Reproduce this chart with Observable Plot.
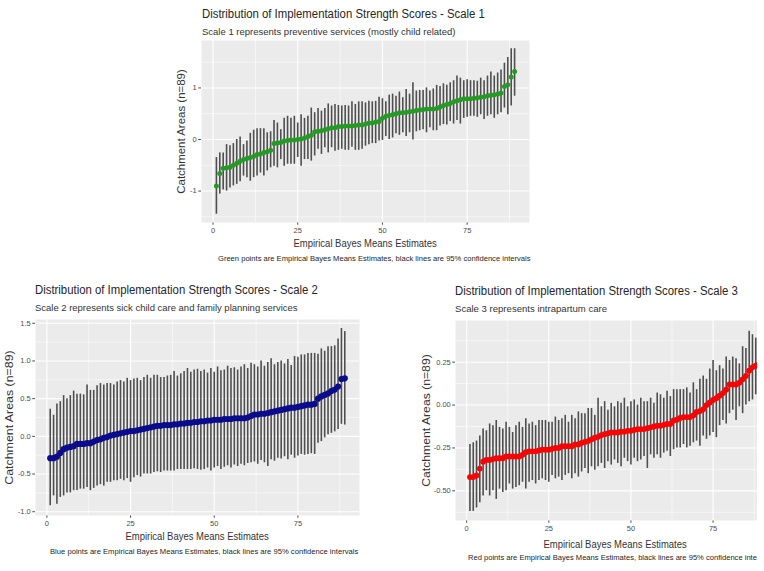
<!DOCTYPE html>
<html>
<head>
<meta charset="utf-8">
<script src="https://cdn.jsdelivr.net/npm/d3@7"></script>
<script src="https://cdn.jsdelivr.net/npm/@observablehq/plot@0.6"></script>
<style>
  html, body { margin: 0; padding: 0; background: #fff; }
  body { width: 764px; height: 571px; overflow: hidden; position: relative;
         font-family: "Liberation Sans", Arial, Helvetica, sans-serif; }
  .panel { position: absolute; overflow: hidden; }
  .txt { position: absolute; white-space: nowrap; line-height: 1; }
</style>
</head>
<body>
<script>
// Shared axis text and ticks
const xTitle = "Empirical Bayes Means Estimates";
const yTitle = "Catchment Areas (n=89)";
const xTicks = [0, 25, 50, 75];
const xMinor = [12.5, 37.5, 62.5, 87.5];

// Scale 1: preventive services (estimate, 95% CI low, 95% CI high), ranked
const est1 = [
  -0.90, -0.66, -0.56, -0.55, -0.54, -0.50, -0.46, -0.42, -0.39, -0.37,
  -0.35, -0.33, -0.29, -0.28, -0.25, -0.24, -0.21, -0.08, -0.07, -0.06,
  -0.03, -0.02, -0.01, -0.01, 0.00, 0.01, 0.03, 0.06, 0.08, 0.15,
  0.16, 0.17, 0.19, 0.21, 0.23, 0.23, 0.25, 0.25, 0.26, 0.26,
  0.26, 0.27, 0.28, 0.28, 0.30, 0.32, 0.32, 0.34, 0.35, 0.41,
  0.45, 0.47, 0.48, 0.50, 0.52, 0.52, 0.53, 0.54, 0.55, 0.56,
  0.57, 0.58, 0.59, 0.59, 0.59, 0.60, 0.63, 0.66, 0.68, 0.70,
  0.73, 0.75, 0.77, 0.79, 0.79, 0.79, 0.80, 0.81, 0.82, 0.83,
  0.85, 0.86, 0.87, 0.88, 0.90, 1.03, 1.06, 1.21, 1.32
];
const lo1 = [
  -1.45, -1.06, -0.98, -1.00, -0.94, -0.90, -0.87, -0.82, -0.71, -0.74,
  -0.81, -0.74, -0.71, -0.65, -0.71, -0.61, -0.55, -0.52, -0.55, -0.39,
  -0.52, -0.48, -0.48, -0.48, -0.35, -0.52, -0.39, -0.39, -0.42, -0.32,
  -0.19, -0.29, -0.16, -0.26, -0.16, -0.23, -0.21, -0.19, -0.21, -0.21,
  -0.15, -0.21, -0.21, -0.19, -0.13, -0.10, -0.08, -0.08, -0.03, -0.02,
  0.06, 0.00, 0.03, 0.11, 0.08, 0.13, 0.06, 0.13, -0.01, 0.15,
  0.17, 0.19, 0.13, 0.23, 0.17, 0.17, 0.26, 0.29, 0.28, 0.35,
  0.30, 0.37, 0.30, 0.41, 0.43, 0.45, 0.45, 0.43, 0.48, 0.39,
  0.45, 0.48, 0.41, 0.48, 0.52, 0.61, 0.48, 0.65, 0.84
];
const hi1 = [
  -0.35, -0.26, -0.26, -0.10, -0.12, -0.08, 0.00, 0.05, -0.10, -0.03,
  0.12, 0.18, 0.21, 0.21, 0.21, 0.13, 0.15, 0.37, 0.32, 0.19,
  0.41, 0.45, 0.41, 0.45, 0.32, 0.48, 0.41, 0.45, 0.61, 0.52,
  0.60, 0.55, 0.60, 0.69, 0.65, 0.68, 0.66, 0.65, 0.66, 0.65,
  0.73, 0.68, 0.73, 0.73, 0.71, 0.74, 0.73, 0.74, 0.82, 0.79,
  0.73, 0.86, 0.88, 0.84, 0.92, 0.81, 0.97, 0.88, 1.10, 0.94,
  0.95, 0.95, 1.00, 0.94, 0.98, 1.05, 1.03, 1.08, 1.05, 1.10,
  1.14, 1.23, 1.19, 1.14, 1.16, 1.14, 1.14, 1.13, 1.19, 1.14,
  1.23, 1.31, 1.23, 1.29, 1.35, 1.48, 1.59, 1.76, 1.76
];
const yTicks1 = [-1, 0, 1];
const yMinor1 = [-1.5, -0.5, 0.5, 1.5];

// Scale 2: sick child care and family planning services
const est2 = [
  -0.29, -0.29, -0.27, -0.22, -0.17, -0.15, -0.14, -0.13, -0.10, -0.10,
  -0.10, -0.09, -0.09, -0.07, -0.05, -0.04, -0.02, -0.01, 0.01, 0.02,
  0.03, 0.04, 0.05, 0.06, 0.07, 0.07, 0.08, 0.09, 0.10, 0.11,
  0.12, 0.13, 0.14, 0.14, 0.15, 0.15, 0.15, 0.16, 0.16, 0.17,
  0.17, 0.18, 0.18, 0.19, 0.19, 0.20, 0.20, 0.21, 0.21, 0.22,
  0.22, 0.22, 0.23, 0.23, 0.23, 0.24, 0.24, 0.24, 0.24, 0.25,
  0.27, 0.29, 0.29, 0.30, 0.30, 0.31, 0.32, 0.33, 0.34, 0.35,
  0.36, 0.37, 0.38, 0.38, 0.39, 0.40, 0.41, 0.42, 0.42, 0.43,
  0.50, 0.53, 0.55, 0.57, 0.60, 0.62, 0.66, 0.76, 0.77
];
const lo2 = [
  -0.92, -0.79, -0.90, -0.81, -0.79, -0.75, -0.75, -0.72, -0.72, -0.70,
  -0.70, -0.68, -0.72, -0.69, -0.66, -0.64, -0.66, -0.61, -0.61, -0.59,
  -0.59, -0.57, -0.59, -0.56, -0.61, -0.55, -0.52, -0.54, -0.50, -0.50,
  -0.50, -0.48, -0.47, -0.48, -0.46, -0.46, -0.46, -0.46, -0.44, -0.44,
  -0.44, -0.44, -0.44, -0.43, -0.44, -0.45, -0.44, -0.42, -0.46, -0.42,
  -0.40, -0.44, -0.41, -0.39, -0.42, -0.38, -0.40, -0.37, -0.39, -0.36,
  -0.35, -0.34, -0.37, -0.32, -0.35, -0.40, -0.31, -0.33, -0.29, -0.30,
  -0.27, -0.31, -0.25, -0.29, -0.26, -0.24, -0.25, -0.24, -0.23, -0.24,
  -0.09, -0.07, -0.02, 0.02, 0.04, 0.06, 0.09, 0.16, 0.15
];
const hi2 = [
  0.36, 0.28, 0.43, 0.46, 0.54, 0.50, 0.54, 0.60, 0.56, 0.56,
  0.55, 0.68, 0.61, 0.61, 0.67, 0.70, 0.68, 0.70, 0.70, 0.68,
  0.72, 0.74, 0.72, 0.77, 0.74, 0.76, 0.77, 0.74, 0.78, 0.81,
  0.77, 0.81, 0.81, 0.78, 0.78, 0.80, 0.81, 0.86, 0.80, 0.83,
  0.86, 0.90, 0.85, 0.88, 0.89, 0.86, 0.88, 0.84, 0.90, 0.85,
  0.92, 0.87, 0.88, 0.93, 0.90, 0.91, 0.88, 0.92, 0.95, 0.90,
  0.97, 0.95, 0.92, 1.00, 0.93, 0.98, 1.03, 0.95, 0.98, 1.00,
  0.96, 1.02, 0.94, 1.06, 1.05, 1.08, 1.08, 1.10, 1.10, 1.10,
  1.09, 1.16, 1.13, 1.19, 1.19, 1.20, 1.29, 1.43, 1.39
];
const yTicks2 = [-1.0, -0.5, 0.0, 0.5, 1.0, 1.5];
const yMinor2 = [-0.75, -0.25, 0.25, 0.75, 1.25];

// Scale 3: intrapartum care
const est3 = [
  -0.42, -0.42, -0.41, -0.37, -0.33, -0.32, -0.32, -0.315, -0.31, -0.31,
  -0.31, -0.30, -0.30, -0.30, -0.30, -0.30, -0.29, -0.275, -0.27, -0.27,
  -0.27, -0.265, -0.26, -0.26, -0.26, -0.255, -0.25, -0.25, -0.24, -0.24,
  -0.24, -0.24, -0.23, -0.23, -0.22, -0.215, -0.21, -0.20, -0.19, -0.185,
  -0.175, -0.17, -0.165, -0.16, -0.16, -0.16, -0.155, -0.155, -0.15, -0.15,
  -0.145, -0.14, -0.14, -0.14, -0.135, -0.13, -0.125, -0.12, -0.12, -0.115,
  -0.11, -0.11, -0.09, -0.085, -0.075, -0.07, -0.07, -0.07, -0.06, -0.04,
  -0.035, -0.025, 0.00, 0.015, 0.03, 0.04, 0.055, 0.07, 0.09, 0.12,
  0.12, 0.12, 0.13, 0.15, 0.17, 0.20, 0.22, 0.23, 0.24
];
const lo3 = [
  -0.62, -0.62, -0.60, -0.57, -0.53, -0.50, -0.53, -0.50, -0.55, -0.49,
  -0.51, -0.50, -0.46, -0.49, -0.48, -0.47, -0.45, -0.49, -0.45, -0.44,
  -0.46, -0.44, -0.43, -0.44, -0.45, -0.41, -0.43, -0.42, -0.44, -0.41,
  -0.40, -0.43, -0.40, -0.42, -0.39, -0.37, -0.40, -0.36, -0.38, -0.36,
  -0.34, -0.37, -0.33, -0.35, -0.32, -0.34, -0.36, -0.31, -0.33, -0.35,
  -0.31, -0.33, -0.32, -0.30, -0.37, -0.29, -0.31, -0.29, -0.31, -0.28,
  -0.27, -0.30, -0.26, -0.25, -0.25, -0.23, -0.25, -0.24, -0.22, -0.21,
  -0.24, -0.18, -0.20, -0.18, -0.16, -0.19, -0.12, -0.09, -0.11, -0.05,
  -0.03, -0.09, -0.01, -0.05, 0.00, 0.02, 0.03, 0.06, 0.05
];
const hi3 = [
  -0.23, -0.22, -0.21, -0.18, -0.14, -0.15, -0.11, -0.12, -0.09, -0.13,
  -0.14, -0.10, -0.13, -0.16, -0.12, -0.10, -0.13, -0.08, -0.11, -0.10,
  -0.12, -0.09, -0.09, -0.09, -0.10, -0.10, -0.07, -0.09, -0.08, -0.06,
  -0.10, -0.06, -0.08, -0.04, -0.05, -0.05, -0.02, -0.02, -0.06, 0.04,
  -0.01, 0.02, -0.03, 0.01, -0.01, 0.02, 0.01, 0.04, -0.01, 0.02,
  0.03, 0.00, 0.04, 0.02, 0.02, 0.04, 0.01, 0.07, 0.06, 0.04,
  0.08, 0.05, 0.09, 0.09, 0.09, 0.09, 0.10, 0.07, 0.13, 0.09,
  0.15, 0.17, 0.15, 0.21, 0.26, 0.20, 0.23, 0.21, 0.28, 0.26,
  0.28, 0.27, 0.24, 0.34, 0.33, 0.43, 0.41, 0.39, 0.38
];
const yTicks3 = [-0.50, -0.25, 0.00, 0.25];
const yMinor3 = [-0.625, -0.375, -0.125, 0.125, 0.375];

const titles = [
  "Distribution of Implementation Strength Scores - Scale 1",
  "Distribution of Implementation Strength Scores - Scale 2",
  "Distribution of Implementation Strength Scores - Scale 3"
];
const subtitles = [
  "Scale 1 represents preventive services (mostly child related)",
  "Scale 2 represents sick child care and family planning services",
  "Scale 3 represents intrapartum care"
];
const captions = [
  "Green points are Empirical Bayes Means Estimates, black lines are 95% confidence intervals",
  "Blue points are Empirical Bayes Means Estimates, black lines are 95% confidence intervals",
  "Red points are Empirical Bayes Means Estimates, black lines are 95% confidence intervals"
];

// Page layout for each panel (page pixel coordinates)
const layouts = [
  { clip: {x: 0, y: 0, w: 764, h: 268},
    box: {x: 201, y: 40, w: 328, h: 182},
    yDomain: [-1.61, 1.92], yTicks: yTicks1, yMinor: yMinor1, fmt: d => String(d),
    color: "#259a25", r: 2.5,
    title: {x: 202, cy: 13.5, w: 283}, subtitle: {x: 202, cy: 31.5, w: 253},
    caption: {x: 531, cy: 259, w: 313}, xlab: {x: 365, cy: 243, w: 143}, ylab: {x: 182, cy: 131, w: 125} },
  { clip: {x: 0, y: 268, w: 392, h: 303},
    box: {x: 35, y: 319, w: 324, h: 196},
    yDomain: [-1.05, 1.55], yTicks: yTicks2, yMinor: yMinor2, fmt: d => d.toFixed(1),
    color: "#0b0b8e", r: 3.1,
    title: {x: 35, cy: 290, w: 283}, subtitle: {x: 35, cy: 308, w: 263},
    caption: {x: 358, cy: 551.7, w: 308}, xlab: {x: 197, cy: 536, w: 143}, ylab: {x: 10, cy: 417, w: 135} },
  { clip: {x: 392, y: 268, w: 365, h: 303},
    box: {x: 455, y: 320, w: 318, h: 200},
    yDomain: [-0.673, 0.493], yTicks: yTicks3, yMinor: yMinor3, fmt: d => d.toFixed(2),
    color: "#ff0000", r: 2.9,
    title: {x: 455, cy: 290.7, w: 283}, subtitle: {x: 455, cy: 309, w: 152},
    caption: {x: 773, cy: 558, w: 305}, xlab: {x: 615, cy: 544, w: 143}, ylab: {x: 427, cy: 420, w: 133} }
];
const series = [[est1, lo1, hi1], [est2, lo2, hi2], [est3, lo3, hi3]];

function addText(parent, clip, str, {x, cy, w}, {size, color, anchor = "start", rotate = false}) {
  const el = document.createElement("div");
  el.className = "txt";
  el.textContent = str;
  el.style.fontSize = size + "px";
  el.style.color = color;
  parent.appendChild(el);
  const nw = el.offsetWidth, nh = el.offsetHeight;
  const s = w ? w / nw : 1;
  let left = x - clip.x;
  if (anchor === "middle") left -= nw / 2;
  if (anchor === "end") left -= nw;
  el.style.left = left + "px";
  el.style.top = (cy - clip.y - nh / 2) + "px";
  el.style.transformOrigin = anchor === "start" ? "0 50%" : anchor === "end" ? "100% 50%" : "50% 50%";
  el.style.transform = rotate ? `rotate(-90deg) scaleX(${s})` : `scaleX(${s})`;
}

layouts.forEach((L, k) => {
  const [est, lo, hi] = series[k];
  const rows = est.map((e, i) => ({i: i + 1, est: e, lo: lo[i], hi: hi[i]}));

  const holder = document.createElement("div");
  holder.className = "panel";
  Object.assign(holder.style, {left: L.clip.x + "px", top: L.clip.y + "px", width: L.clip.w + "px", height: L.clip.h + "px"});
  document.body.appendChild(holder);

  const mL = 40, mR = 4, mT = 4, mB = 20;
  const chart = Plot.plot({
    width: mL + L.box.w + mR,
    height: mT + L.box.h + mB,
    marginLeft: mL, marginRight: mR, marginTop: mT, marginBottom: mB,
    style: {background: "transparent", color: "#4d4d4d", fontSize: "7.5px",
            fontFamily: '"Liberation Sans", Arial, sans-serif', overflow: "visible"},
    x: {domain: [-3.4, 93.4], ticks: xTicks, tickSize: 2.75, tickPadding: 2, label: null},
    y: {domain: L.yDomain, ticks: L.yTicks, tickFormat: L.fmt, tickSize: 2.75, tickPadding: 2, label: null},
    marks: [
      Plot.frame({fill: "#ebebeb", stroke: null}),
      Plot.ruleY(L.yMinor, {stroke: "#ffffff", strokeWidth: 0.55}),
      Plot.ruleX(xMinor, {stroke: "#ffffff", strokeWidth: 0.55}),
      Plot.gridY(L.yTicks, {stroke: "#ffffff", strokeOpacity: 1, strokeWidth: 1.1}),
      Plot.gridX(xTicks, {stroke: "#ffffff", strokeOpacity: 1, strokeWidth: 1.1}),
      Plot.ruleX(rows, {x: "i", y1: "lo", y2: "hi", stroke: "#4f4f4f", strokeWidth: 1.6}),
      Plot.dot(rows, {x: "i", y: "est", r: L.r, fill: L.color, stroke: null})
    ]
  });
  chart.style.position = "absolute";
  chart.style.left = (L.box.x - mL - L.clip.x) + "px";
  chart.style.top = (L.box.y - mT - L.clip.y) + "px";
  holder.appendChild(chart);

  addText(holder, L.clip, titles[k], L.title, {size: 12, color: "#262626"});
  addText(holder, L.clip, subtitles[k], L.subtitle, {size: 9.5, color: "#333"});
  addText(holder, L.clip, captions[k], L.caption, {size: 8, color: "#262626", anchor: "end"});
  addText(holder, L.clip, xTitle, L.xlab, {size: 11, color: "#333", anchor: "middle"});
  addText(holder, L.clip, yTitle, L.ylab, {size: 11, color: "#333", anchor: "middle", rotate: true});
});
</script>
</body>
</html>
